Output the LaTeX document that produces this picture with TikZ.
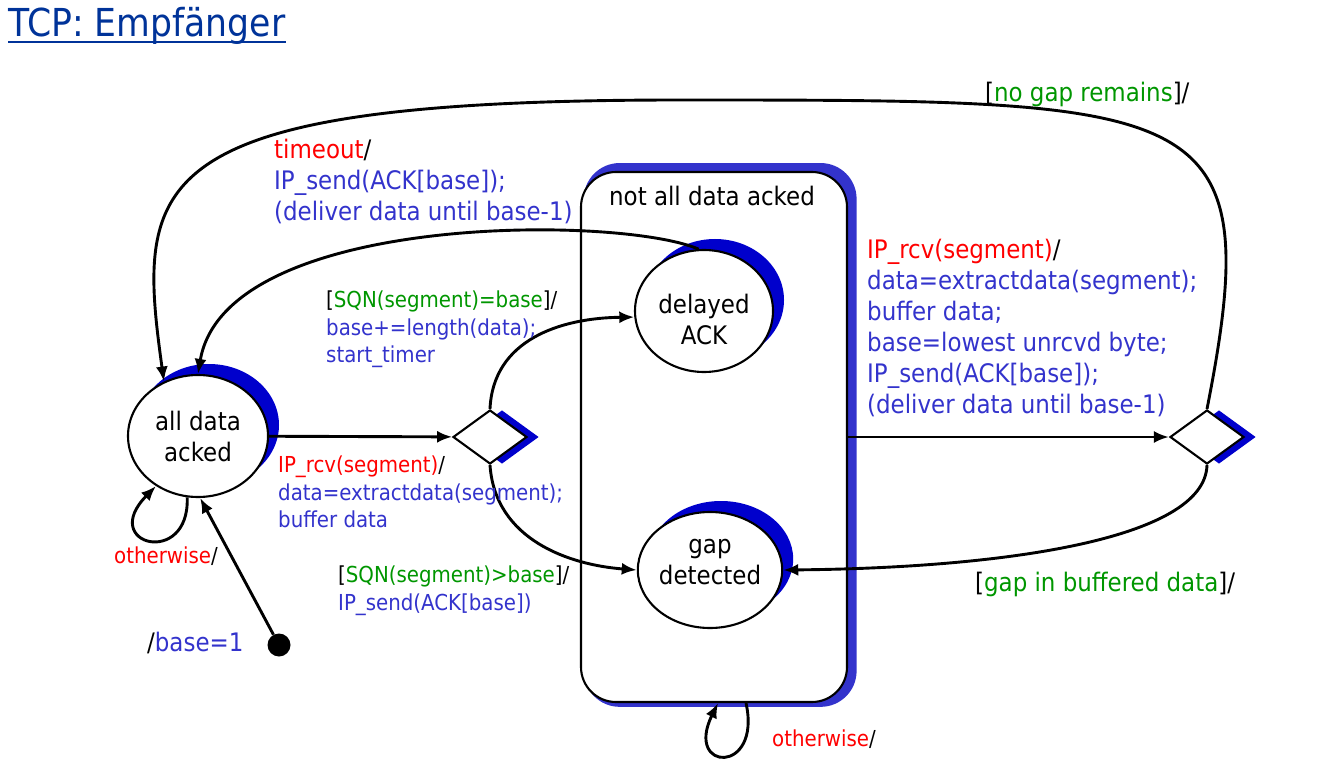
\documentclass[tikz,border=0pt]{standalone}
\usepackage{fontspec}
\setmainfont{DejaVu Sans Condensed}
\usetikzlibrary{shapes.geometric,shadows,arrows.meta}
\definecolor{tred}{RGB}{255,0,0}
\definecolor{tgreen}{RGB}{0,150,0}
\definecolor{tblue}{RGB}{51,51,204}
\definecolor{ttitle}{RGB}{0,51,153}
\definecolor{sdblue}{RGB}{0,0,204}
\definecolor{boxblue}{RGB}{51,51,204}

\begin{document}
\begin{tikzpicture}[x=1pt,y=-1pt,
  state/.style={ellipse,draw,line width=2.1pt,fill=white,inner sep=0pt,
    minimum width=140pt,minimum height=122pt,align=center,
    font=\fontsize{25.5}{31}\selectfont,
    drop shadow={shadow xshift=11pt,shadow yshift=11pt,fill=sdblue,opacity=1}},
  choice/.style={diamond,draw,line width=2.1pt,fill=white,inner sep=0pt,
    minimum width=74pt,minimum height=54pt,
    drop shadow={shadow xshift=12pt,shadow yshift=0pt,fill=sdblue,opacity=1}},
  trans/.style={line width=2.9pt,-{Latex[length=15pt,width=12pt]}},
  lbl/.style={font=\fontsize{25.5}{31}\selectfont,align=left,inner sep=0pt,anchor=north west},
  slbl/.style={lbl,font=\fontsize{22}{27.5}\selectfont}]
\useasboundingbox (0,0) rectangle (1333,759);

\node[anchor=base west,inner sep=0pt,text=ttitle,font=\fontsize{38.5}{44}\selectfont] (title) at (8,37) {TCP: Empfänger};
\draw[ttitle,line width=2.4pt] ([yshift=-5pt]title.base west) -- ([yshift=-5pt]title.base east);

\node[draw,line width=2.1pt,fill=white,rounded corners=35pt,minimum width=266pt,minimum height=530pt,
  drop shadow={shadow xshift=6pt,shadow yshift=2pt,shadow scale=1.026,fill=boxblue,opacity=1}] (nada) at (714,437) {};
\node[lbl,anchor=north] (nadat) at (712,186) {not all data acked};

\node[state] (ada) at (198,436) {all data\\acked};
\node[state,minimum width=138pt] (dack) at (704,311) {\rule{0pt}{37pt}delayed\\ACK};
\node[state,minimum width=142pt,minimum height=116pt] (gap) at (710,570) {gap\\detected\rule[-17pt]{0pt}{1pt}};
\node[choice] (d1) at (490,437) {};
\node[choice] (d2) at (1207,437) {};
\node[circle,fill=black,minimum size=23pt,inner sep=0pt] (init) at (279,645) {};

\draw[trans] (init) -- (ada.-88);
\draw[trans] (ada.-100) .. controls (190,568) and (98,545) .. (ada.-130);
\draw[trans] (ada) -- (d1);
\draw[trans] (d1.north) .. controls (493,340) and (560,318) .. (dack.185);
\draw[trans] (d1.south) .. controls (495,540) and (570,565) .. (gap.west);
\draw[trans] (dack.95) .. controls (620,215) and (225,212) .. (ada.north);
\draw[trans] (nada.east) -- (d2.west);
\draw[trans] (d2.south) .. controls (1205,540) and (1000,568) .. (gap.east);
\draw[trans] (d2.north) .. controls (1268,100) and (1205,100) .. (680,100)
  .. controls (140,100) and (136,180) .. (ada.122);
\draw[trans] ([xshift=32pt]nada.south) .. controls (762,775) and (684,772) .. ([xshift=4pt]nada.south);

\node[lbl] (lto) at (274,139) {\textcolor{tred}{timeout}/\\
  \textcolor{tblue}{IP\_send(ACK[base]);}\\
  \textcolor{tblue}{(deliver data until base-1)}};
\node[slbl] (lsqe) at (326,291) {[\textcolor{tgreen}{SQN(segment)=base}]/\\
  \textcolor{tblue}{base+=length(data);}\\
  \textcolor{tblue}{start\_timer}};
\node[slbl] (lrcv) at (278,456) {\textcolor{tred}{IP\_rcv(segment)}/\\
  \textcolor{tblue}{data=extractdata(segment);}\\
  \textcolor{tblue}{buffer data}};
\node[slbl] (lsqg) at (338,566) {[\textcolor{tgreen}{SQN(segment)>base}]/\\
  \textcolor{tblue}{IP\_send(ACK[base])}};
\node[slbl] (lotw) at (114,547) {\textcolor{tred}{otherwise}/};
\node[lbl] (linit) at (147,632) {/\textcolor{tblue}{base=1}};
\node[lbl] (lrcv2) at (867,239) {\textcolor{tred}{IP\_rcv(segment)}/\\
  \textcolor{tblue}{data=extractdata(segment);}\\
  \textcolor{tblue}{buffer data;}\\
  \textcolor{tblue}{base=lowest unrcvd byte;}\\
  \textcolor{tblue}{IP\_send(ACK[base]);}\\
  \textcolor{tblue}{(deliver data until base-1)}};
\node[lbl] (lnogap) at (985,82) {[\textcolor{tgreen}{no gap remains}]/};
\node[lbl] (lgap) at (975,572) {[\textcolor{tgreen}{gap in buffered data}]/};
\node[slbl] (lotw2) at (772,730) {\textcolor{tred}{otherwise}/};
\end{tikzpicture}
\end{document}
